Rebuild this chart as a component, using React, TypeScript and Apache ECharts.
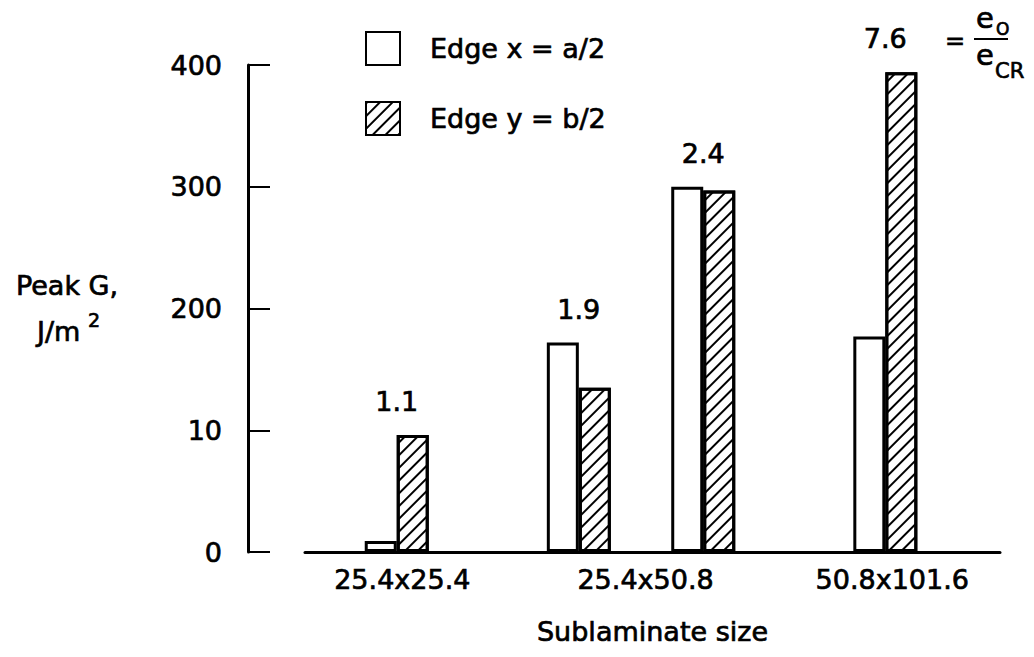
import React, { useEffect, useRef } from 'react';
import * as echarts from 'echarts';

// Sublaminate size categories and where their labels sit on the x scale (0-100)
const categories = ['25.4x25.4', '25.4x50.8', '50.8x101.6'];
const categoryPositions = [14, 49, 84.5];

// Bar pair positions on the same x scale
const pairPositions = [13.2, 39.4, 57.3, 83.5];

// Peak G values (in axis units)
const edgeXValues = [9, 172, 300, 177];
const edgeYValues = [96, 135, 297, 394];

// e0 / eCR ratios printed above each pair
const ratioLabels = ['1.1', '1.9', '2.4', '7.6'];

// Y tick values and their printed labels (as in the original figure)
const yTickValues = [0, 100, 200, 300, 400];
const yTickLabels = ['0', '10', '200', '300', '400'];

const seriesNames = ['Edge x = a/2', 'Edge y = b/2'];

const FONT = '"DejaVu Sans", "Liberation Sans", Arial, sans-serif';
const FS = 27;
const THICK = 0.7;

export default function App() {
  const ref = useRef<HTMLDivElement>(null);

  useEffect(() => {
    if (!ref.current) return;
    const chart = echarts.init(ref.current, null, { renderer: 'svg' });

    const hatch = {
      symbol: 'rect',
      symbolSize: 1,
      color: '#000',
      dashArrayX: [[1, 0]],
      dashArrayY: [1.4, 6.2],
      rotation: -Math.PI / 4,
    };

    const ts = {
      fontFamily: FONT,
      color: '#000',
      textBorderColor: '#000',
      textBorderWidth: THICK,
    };

    const txt = (extra: any) => ({
      fontFamily: FONT,
      fill: '#000',
      stroke: '#000',
      lineWidth: THICK,
      ...extra,
    });

    const option: any = {
      animation: false,
      backgroundColor: '#fff',
      textStyle: { fontFamily: FONT, color: '#000' },
      grid: { left: 305, right: 34, top: 65, bottom: 105 },
      legend: {
        data: seriesNames,
        orient: 'vertical',
        left: 365,
        top: 31,
        padding: 0,
        icon: 'rect',
        itemWidth: 34,
        itemHeight: 33,
        itemGap: 35,
        selectedMode: false,
        textStyle: {
          ...ts,
          fontSize: FS,
          padding: [0, 0, 0, 25],
        },
      },
      xAxis: {
        type: 'value',
        min: 0,
        max: 100,
        axisLine: { show: true, onZero: false, lineStyle: { color: '#000', width: 3 } },
        axisTick: { show: false },
        splitLine: { show: false },
        axisLabel: {
          ...ts,
          customValues: categoryPositions,
          formatter: (v: number) => {
            const i = categoryPositions.indexOf(v);
            return i >= 0 ? categories[i] : '';
          },
          fontSize: FS,
          margin: 14,
        },
        name: 'Sublaminate size',
        nameLocation: 'middle',
        nameGap: 66,
        nameTextStyle: { ...ts, fontSize: FS },
      },
      yAxis: {
        type: 'value',
        min: 0,
        max: 400,
        interval: 100,
        offset: 57,
        axisLine: { show: true, onZero: false, lineStyle: { color: '#000', width: 3 } },
        axisTick: { show: true, inside: true, length: 22, lineStyle: { color: '#000', width: 2 } },
        splitLine: { show: false },
        axisLabel: {
          ...ts,
          formatter: (v: number) => {
            const i = yTickValues.indexOf(v);
            return i >= 0 ? yTickLabels[i] : '';
          },
          fontSize: FS,
          margin: 26,
        },
      },
      series: [
        {
          name: seriesNames[0],
          type: 'bar',
          data: pairPositions.map((p, i) => [p, edgeXValues[i]]),
          barWidth: 32,
          barGap: '0%',
          itemStyle: { color: '#fff', borderColor: '#000', borderWidth: 3 },
        },
        {
          name: seriesNames[1],
          type: 'bar',
          data: pairPositions.map((p, i) => [p, edgeYValues[i]]),
          barWidth: 32,
          barGap: '0%',
          itemStyle: { color: '#fff', borderColor: '#000', borderWidth: 3, decal: hatch },
        },
        {
          type: 'scatter',
          silent: true,
          symbolSize: 0,
          itemStyle: { opacity: 1 },
          data: pairPositions.map((p, i) => [p, Math.max(edgeXValues[i], edgeYValues[i])]),
          label: {
            ...ts,
            show: true,
            position: 'top',
            distance: 20,
            formatter: (p: any) => ratioLabels[p.dataIndex],
            fontSize: FS,
          },
        },
      ],
      graphic: [
        {
          type: 'text',
          x: 67,
          y: 285,
          style: txt({ text: 'Peak G,', fontSize: FS, align: 'center', verticalAlign: 'middle' }),
        },
        {
          type: 'text',
          x: 37,
          y: 331,
          style: txt({ text: 'J/m', fontSize: FS, align: 'left', verticalAlign: 'middle' }),
        },
        {
          type: 'text',
          x: 88,
          y: 320,
          style: txt({ text: '2', fontSize: 19, align: 'left', verticalAlign: 'middle' }),
        },
        {
          type: 'text',
          x: 955,
          y: 41,
          style: txt({ text: '=', fontSize: 24, align: 'center', verticalAlign: 'middle' }),
        },
        {
          type: 'line',
          shape: { x1: 974, y1: 39, x2: 1008, y2: 39 },
          style: { stroke: '#000', lineWidth: 2 },
        },
        {
          type: 'text',
          x: 976,
          y: 18,
          style: txt({ text: 'e', fontSize: 29, align: 'left', verticalAlign: 'middle' }),
        },
        {
          type: 'text',
          x: 996,
          y: 29,
          style: txt({ text: 'O', fontSize: 17, align: 'left', verticalAlign: 'middle' }),
        },
        {
          type: 'text',
          x: 976,
          y: 55,
          style: txt({ text: 'e', fontSize: 29, align: 'left', verticalAlign: 'middle' }),
        },
        {
          type: 'text',
          x: 995,
          y: 71,
          style: txt({ text: 'CR', fontSize: 21, align: 'left', verticalAlign: 'middle' }),
        },
      ],
    };

    chart.setOption(option);
    return () => chart.dispose();
  }, []);

  return (
    <div
      ref={ref}
      style={{ position: 'fixed', left: 0, top: 0, width: 1034, height: 657, background: '#fff' }}
    />
  );
}
